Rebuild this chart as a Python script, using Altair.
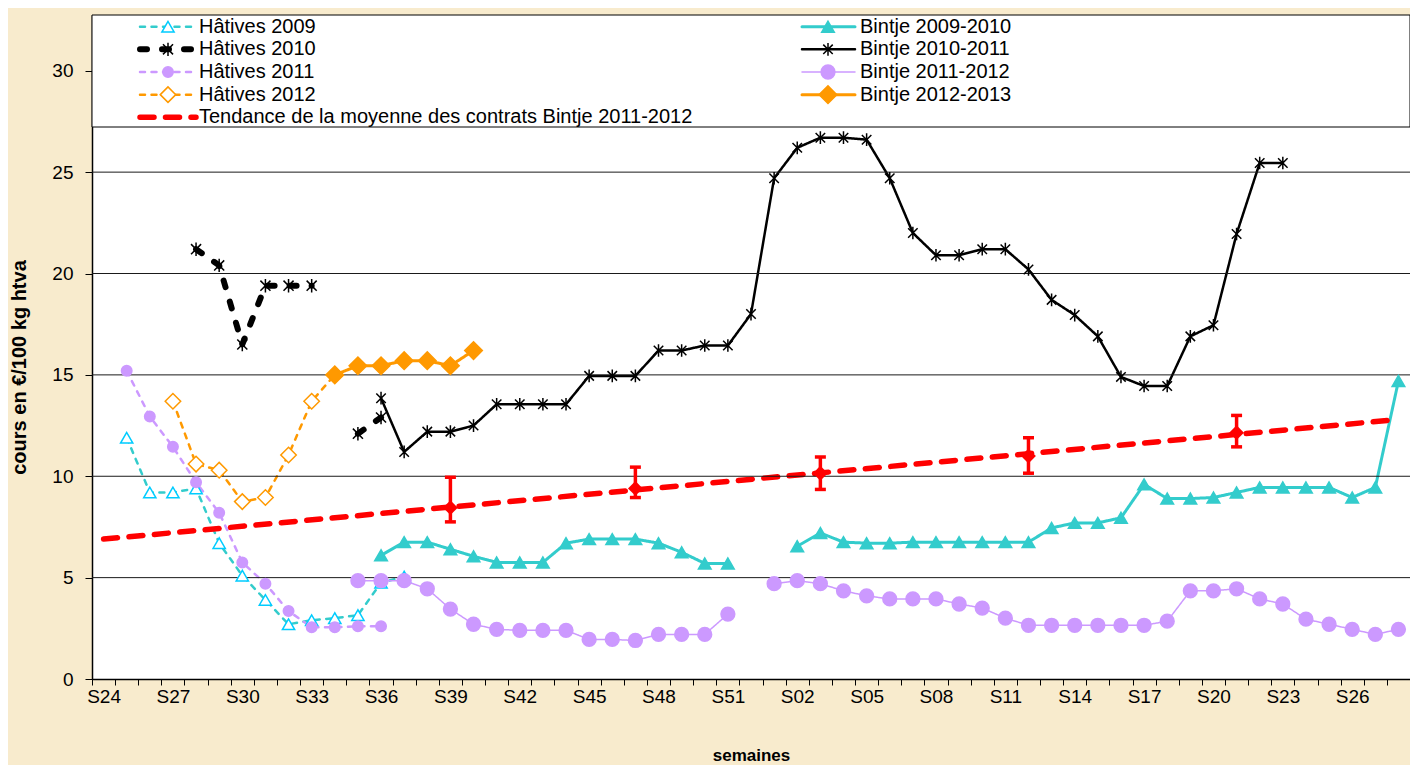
import json
import altair as alt
import pandas as pd

# ---------------- data ----------------
WEEKS = ["S24", "S25", "S26", "S27", "S28", "S29", "S30", "S31", "S32", "S33",
         "S34", "S35", "S36", "S37", "S38", "S39", "S40", "S41", "S42", "S43",
         "S44", "S45", "S46", "S47", "S48", "S49", "S50", "S51", "S52",
         "S01", "S02", "S03", "S04", "S05", "S06", "S07", "S08", "S09", "S10",
         "S11", "S12", "S13", "S14", "S15", "S16", "S17", "S18", "S19", "S20",
         "S21", "S22", "S23", "S24", "S25", "S26", "S27", "S28"]

SERIES = ["Hâtives 2009", "Hâtives 2010", "Hâtives 2011", "Hâtives 2012",
          "Bintje 2009-2010", "Bintje 2010-2011", "Bintje 2011-2012", "Bintje 2012-2013",
          "Tendance de la moyenne des contrats Bintje 2011-2012"]

H2009_START = "S25"
H2009 = [11.9, 9.2, 9.2, 9.4, 6.7, 5.1, 3.9, 2.7, 2.9, 3.0, 3.15, 4.75, 5.05]

H2010_START = "S28"
H2010 = [21.2, 20.4, 16.5, 19.4, 19.4, 19.4, None, 12.1, 12.9]

H2011_START = "S25"
H2011 = [15.2, 12.95, 11.45, 9.7, 8.2, 5.75, 4.7, 3.35, 2.55, 2.55, 2.6, 2.6]

H2012_START = "S27"
H2012 = [13.7, 10.6, 10.3, 8.75, 8.95, 11.05, 13.7, 15.0]

B0910_START = "S36"
B0910 = [6.1, 6.75, 6.75, 6.4, 6.05, 5.75, 5.75, 5.75, 6.7, 6.9, 6.9, 6.9, 6.7, 6.25, 5.7, 5.7,
         None, None,
         6.55, 7.2, 6.75, 6.7, 6.7, 6.75, 6.75, 6.75, 6.75, 6.75, 6.75, 7.45, 7.7, 7.7, 7.95,
         9.6, 8.9, 8.9, 8.95, 9.2, 9.45, 9.45, 9.45, 9.45, 8.95, 9.45, 14.7]

B1011_START = "S36"
B1011 = [13.85, 11.2, 12.2, 12.2, 12.5, 13.55, 13.55, 13.55, 13.55, 14.95, 14.95, 14.95,
         16.2, 16.2, 16.45, 16.45, 18.0,
         24.7, 26.2, 26.7, 26.7, 26.6, 24.7, 22.0, 20.9, 20.9, 21.2, 21.2, 20.2, 18.7, 17.95,
         16.9, 14.9, 14.45, 14.45, 16.9, 17.45, 21.95, 25.45, 25.45]

B1112_START = "S35"
B1112 = [4.85, 4.85, 4.85, 4.45, 3.45, 2.7, 2.45, 2.4, 2.4, 2.4, 1.95, 1.95, 1.9, 2.2, 2.2, 2.2, 3.2,
         None,
         4.7, 4.85, 4.7, 4.35, 4.1, 3.95, 3.95, 3.95, 3.7, 3.5, 3.0, 2.65, 2.65, 2.65, 2.65, 2.65,
         2.65, 2.85, 4.35, 4.35, 4.45, 3.95, 3.7, 2.95, 2.7, 2.45, 2.2, 2.45]

B1213_START = "S34"
B1213 = [15.0, 15.45, 15.45, 15.7, 15.7, 15.45, 16.2]

TREND_POS = [0, 56]          # first S24 and last S28
TREND_VAL = [6.9, 12.8]

ERR_WEEKS = ["S39", "S47", "S03", "S12", "S21"]
ERR_MID = [8.45, 9.4, 10.15, 11.0, 12.15]
ERR_LOW = [7.75, 8.95, 9.35, 10.15, 11.45]
ERR_HIGH = [9.95, 10.45, 10.95, 11.9, 13.0]

Y_TICKS = [0, 5, 10, 15, 20, 25, 30]
GRID_VALUES = [5, 10, 15, 20, 25]   # the 30 line is hidden behind the legend box

# ---------------- styles ----------------
AST = "M0,-1L0,1M-0.75,-0.75L0.75,0.75M-0.75,0.75L0.75,-0.75"
LINE_COLORS = ["#33CCCC", "#000000", "#CC99FF", "#FF9900",
               "#33CCCC", "#000000", "#CC99FF", "#FF9900", "#FF0000"]
LINE_DASH = [[5, 6.5], [7, 15], [5, 6.5], [5, 6.5],
             [1, 0], [1, 0], [1, 0], [1, 0], [14, 11.5]]
LINE_WIDTH = [2.5, 6, 2.5, 2.5, 3, 2.5, 1.5, 3, 5.5]
MARK_STROKE = ["#00CCFF", "#000000", "#CC99FF", "#FF9900",
               "#33CCCC", "#000000", "#CC99FF", "#FF9900", "#FF0000"]
MARK_FILL = ["#FFFFFF", "#000000", "#CC99FF", "#FFFFFF",
             "#33CCCC", "#000000", "#CC99FF", "#FF9900", "#FF0000"]
MARK_SHAPE = ["triangle-up", AST, "circle", "diamond",
              "triangle-up", AST, "circle", "diamond", "circle"]
MARK_SIZE = [150, 180, 110, 240, 160, 160, 190, 310, 10]

FONT = "Liberation Sans"
PLOT_W, PLOT_H = 1318, 664
N = len(WEEKS)
BAND = PLOT_W / N
Y_MAX = 32.75

# ---------------- tables ----------------
rows = []


def add_series(name, start, values):
    i0 = WEEKS.index(start)
    seg = 0
    for k, v in enumerate(values):
        if v is None:
            seg += 1
            continue
        rows.append({"series": name, "idx": i0 + k, "value": v, "seg": f"{name}|{seg}"})


add_series(SERIES[0], H2009_START, H2009)
add_series(SERIES[1], H2010_START, H2010)
add_series(SERIES[2], H2011_START, H2011)
add_series(SERIES[3], H2012_START, H2012)
add_series(SERIES[4], B0910_START, B0910)
add_series(SERIES[5], B1011_START, B1011)
add_series(SERIES[6], B1112_START, B1112)
add_series(SERIES[7], B1213_START, B1213)
for p, v in zip(TREND_POS, TREND_VAL):
    rows.append({"series": SERIES[8], "idx": p, "value": v, "seg": SERIES[8]})
df = pd.DataFrame(rows)
df_pts = df[df["series"] != SERIES[8]]

err_df = pd.DataFrame({"idx": [WEEKS.index(w) for w in ERR_WEEKS],
                       "mid": ERR_MID, "low": ERR_LOW, "high": ERR_HIGH})
grid_df = pd.DataFrame({"g": GRID_VALUES})


def px_x(px):  # plot-relative pixel -> x data
    return px / PLOT_W * N - 0.5


def px_y(py):  # plot-relative pixel (from top) -> y data
    return Y_MAX * (1 - py / PLOT_H)


LEFT = [SERIES[0], SERIES[1], SERIES[2], SERIES[3], SERIES[8]]
RIGHT = [SERIES[4], SERIES[5], SERIES[6], SERIES[7]]
leg_rows = []
for col, names, (x0, x1, xm, xt) in [(0, LEFT, (48, 104, 76, 107)),
                                      (1, RIGHT, (710, 763, 736, 768))]:
    for k, name in enumerate(names):
        py = 11.7 + 22.65 * k
        leg_rows.append({"series": name, "x0": px_x(x0), "x1": px_x(x1), "xm": px_x(xm),
                         "xt": px_x(xt), "y": px_y(py)})
leg_df = pd.DataFrame(leg_rows)
leg_pts = leg_df[leg_df["series"] != SERIES[8]]

box_df = pd.DataFrame([{"xa": -0.5, "xb": N - 0.5, "ya": px_y(112), "yb": Y_MAX}])

# ---------------- scales / axes ----------------
xs = alt.Scale(domain=[-0.5, N - 0.5], nice=False, zero=False)
ys = alt.Scale(domain=[0, Y_MAX], nice=False, zero=False)

label_expr = ("(datum.value + 0.5) % 3 == 0 && datum.value < " + str(N - 1) + " ? "
              + json.dumps(WEEKS) + "[datum.value + 0.5] : ''")
x_axis = alt.Axis(values=[k - 0.5 for k in range(N + 1)], labelExpr=label_expr,
                  labelOffset=BAND / 2, labelOverlap=False, labelFlush=False, labelBound=False,
                  grid=False, tickSize=6, tickColor="black", domainColor="black",
                  domainWidth=1.5, labelFontSize=19, labelColor="black", labelPadding=2,
                  labelFont=FONT, title="semaines", titleFont=FONT, titleFontSize=17,
                  titleFontWeight="bold", titleColor="black", titleBaseline="middle",
                  titleY=76)
y_axis = alt.Axis(values=Y_TICKS, grid=False,
                  tickSize=7, tickColor="black", domainColor="black",
                  domainWidth=1.5, labelFontSize=19, labelColor="black", labelPadding=12,
                  labelFont=FONT, title="cours en €/100 kg htva", titleFont=FONT,
                  titleFontSize=20, titleFontWeight="bold", titleColor="black",
                  titleBaseline="middle", titleX=-73, titleY=352)


def X(field):
    return alt.X(field, scale=xs, axis=x_axis)


def Y(field):
    return alt.Y(field, scale=ys, axis=y_axis)


color_enc = alt.Color("series:N", scale=alt.Scale(domain=SERIES, range=LINE_COLORS), legend=None)
dash_enc = alt.StrokeDash("series:N", scale=alt.Scale(domain=SERIES, range=LINE_DASH), legend=None)
width_enc = alt.StrokeWidth("series:N", scale=alt.Scale(type="ordinal", domain=SERIES, range=LINE_WIDTH),
                            legend=None)
shape_enc = alt.Shape("series:N", scale=alt.Scale(domain=SERIES, range=MARK_SHAPE), legend=None)
fill_enc = alt.Fill("series:N", scale=alt.Scale(domain=SERIES, range=MARK_FILL), legend=None)
stroke_enc = alt.Stroke("series:N", scale=alt.Scale(domain=SERIES, range=MARK_STROKE), legend=None)
size_enc = alt.Size("series:N", scale=alt.Scale(type="ordinal", domain=SERIES, range=MARK_SIZE),
                    legend=None)

# ---------------- layers ----------------
lines = alt.Chart(df).mark_line(strokeCap="round", strokeJoin="round").encode(
    x=X("idx:Q"), y=Y("value:Q"),
    color=color_enc, strokeDash=dash_enc, strokeWidth=width_enc,
    detail="seg:N", order="idx:Q")

grid = alt.Chart(grid_df).mark_rule(color="#1a1a1a", strokeWidth=1).encode(y=Y("g:Q"))

box = alt.Chart(box_df).mark_rect(fill="white", stroke="black", strokeWidth=1, opacity=1).encode(
    x=X("xa:Q"), x2="xb:Q", y=Y("ya:Q"), y2="yb:Q")

points = alt.Chart(df_pts).mark_point(opacity=1, strokeWidth=1.5).encode(
    x=X("idx:Q"), y=Y("value:Q"),
    shape=shape_enc, fill=fill_enc, stroke=stroke_enc, size=size_enc)

err_rule = alt.Chart(err_df).mark_rule(color="#FF0000", strokeWidth=3.5).encode(
    x=X("idx:Q"), y=Y("low:Q"), y2="high:Q")
err_lo = alt.Chart(err_df).mark_tick(orient="horizontal", color="#FF0000", size=11,
                                     thickness=3.5, opacity=1).encode(
    x=X("idx:Q"), y=Y("low:Q"))
err_hi = alt.Chart(err_df).mark_tick(orient="horizontal", color="#FF0000", size=11,
                                     thickness=3.5, opacity=1).encode(
    x=X("idx:Q"), y=Y("high:Q"))
err_mid = alt.Chart(err_df).mark_point(shape="diamond", filled=True, color="#FF0000",
                                       size=220, opacity=1).encode(
    x=X("idx:Q"), y=Y("mid:Q"))

leg_lines = alt.Chart(leg_df).mark_rule(strokeCap="round").encode(
    x=X("x0:Q"), x2="x1:Q", y=Y("y:Q"),
    color=color_enc, strokeDash=dash_enc, strokeWidth=width_enc)
leg_points = alt.Chart(leg_pts).mark_point(opacity=1, strokeWidth=1.5).encode(
    x=X("xm:Q"), y=Y("y:Q"),
    shape=shape_enc, fill=fill_enc, stroke=stroke_enc, size=size_enc)
leg_text = alt.Chart(leg_df).mark_text(align="left", baseline="middle", font=FONT,
                                       fontSize=20, color="black").encode(
    x=X("xt:Q"), y=Y("y:Q"), text="series:N")

chart = alt.layer(lines, grid, box, points, err_rule, err_lo, err_hi, err_mid,
                  leg_lines, leg_points, leg_text).properties(
    width=PLOT_W, height=PLOT_H,
    autosize=alt.AutoSizeParams(type="none"),
    padding={"left": 84, "top": 7, "right": 0, "bottom": 86},
    background="#F8EBCD",
).configure_view(fill="white", stroke="#808080", strokeWidth=1)

chart.save("out.html", embed_options={"renderer": "svg", "actions": False})
